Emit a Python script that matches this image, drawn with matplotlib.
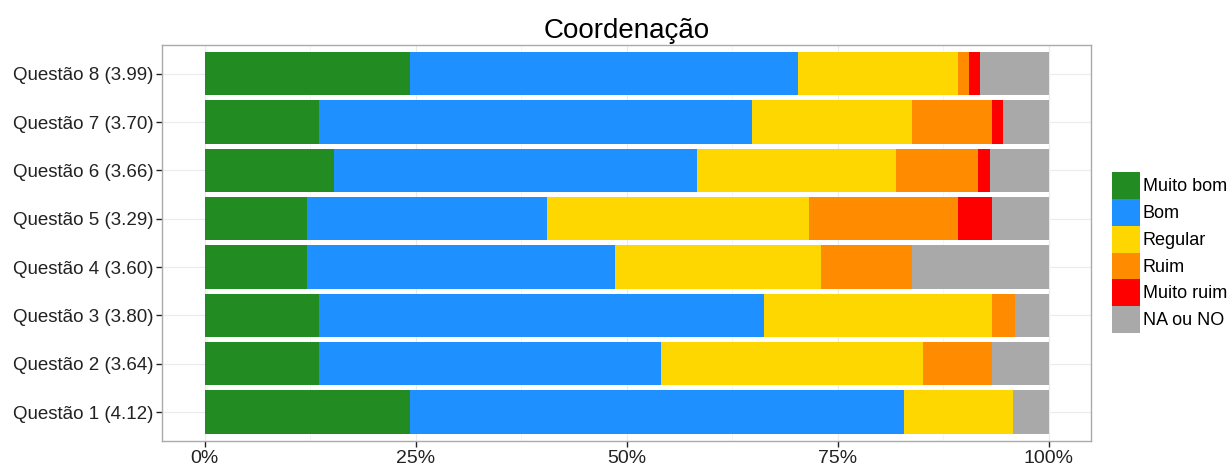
import matplotlib
matplotlib.use("Agg")
import matplotlib.pyplot as plt
import numpy as np

plt.rcParams['font.family'] = ['Liberation Sans', 'DejaVu Sans']

questions = ["Questão 1 (4.12)", "Questão 2 (3.64)", "Questão 3 (3.80)", "Questão 4 (3.60)",
             "Questão 5 (3.29)", "Questão 6 (3.66)", "Questão 7 (3.70)", "Questão 8 (3.99)"]
categories = ["Muito bom", "Bom", "Regular", "Ruim", "Muito ruim", "NA ou NO"]
colors = ["#228B22", "#1E90FF", "#FFD700", "#FF8C00", "#FF0000", "#A9A9A9"]

muito_bom  = [24.29, 13.51, 13.51, 12.16, 12.16, 15.28, 13.51, 24.32]
bom        = [58.57, 40.54, 52.70, 36.49, 28.38, 43.06, 51.35, 45.95]
regular    = [12.86, 31.08, 27.03, 24.32, 31.08, 23.61, 18.92, 18.92]
ruim       = [0.00,  8.11,  2.70, 10.81, 17.57,  9.72,  9.46,  1.35]
muito_ruim = [0.00,  0.00,  0.00,  0.00,  4.05,  1.39,  1.35,  1.35]
na_ou_no   = [4.29,  6.76,  4.05, 16.22,  6.76,  6.94,  5.41,  8.11]

series = [muito_bom, bom, regular, ruim, muito_ruim, na_ou_no]

fig = plt.figure(figsize=(12.32, 4.67), dpi=100)
ax = fig.add_axes([162.3/1232, 1-441.0/467, (1091-162.3)/1232, (441.0-44.7)/467])

y = np.arange(1, len(questions)+1)
left = np.zeros(len(questions))
handles = []
for vals, c, lab in zip(series, colors, categories):
    v = np.array(vals)
    h = ax.barh(y, v, left=left, height=0.9, color=c, linewidth=0, label=lab, zorder=2)
    handles.append(h)
    left = left + v

ax.set_xlim(-5, 105)
ax.set_ylim(0.4, 8.6)
ax.set_xticks([0, 25, 50, 75, 100])
ax.set_xticklabels(["0%", "25%", "50%", "75%", "100%"])
ax.set_xticks([12.5, 37.5, 62.5, 87.5], minor=True)
ax.set_yticks(y)
ax.set_yticklabels(questions)
ax.tick_params(axis='y', which='major', labelsize=13.5, colors='#222222', length=4.3, width=1, pad=2.2)
ax.tick_params(axis='x', which='major', labelsize=14, colors='#222222', length=4.3, width=1, pad=2.5)
ax.tick_params(axis='both', which='minor', length=0)
ax.grid(True, which='major', color='#EBEBEB', linewidth=0.8, zorder=0)
ax.grid(True, which='minor', axis='x', color='#F4F4F4', linewidth=0.6, zorder=0)
ax.set_axisbelow(True)
for s in ax.spines.values():
    s.set_color('#AAAAAA')
    s.set_linewidth(1)

ax.set_title("Coordenação", fontsize=20, pad=5)

fig.legend(handles=handles, labels=categories, loc='center left',
           bbox_to_anchor=(1112/1232, 1-252.5/467), frameon=False, fontsize=13,
           handlelength=1.57, handleheight=1.9, labelspacing=0.0, handletextpad=0.12,
           borderpad=0, borderaxespad=0)

fig.savefig("out.png", dpi=100)
